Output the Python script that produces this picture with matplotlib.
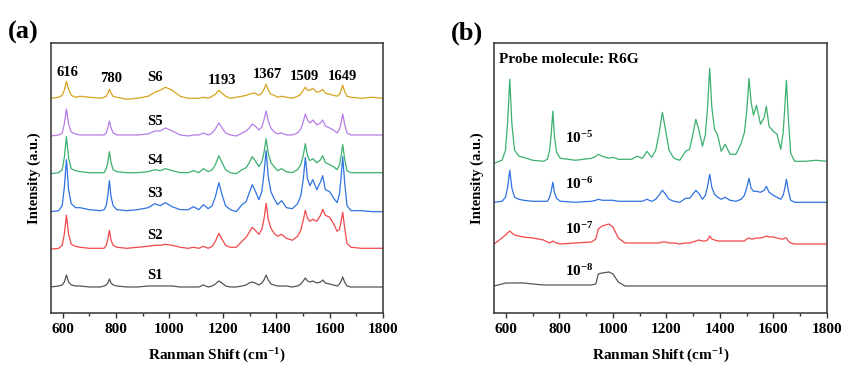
import matplotlib
matplotlib.use('Agg')
import matplotlib.pyplot as plt
from matplotlib.ticker import MultipleLocator
import numpy as np

plt.rcParams['font.family'] = ['Liberation Serif', 'DejaVu Serif']
plt.rcParams['font.weight'] = 'bold'
plt.rcParams['axes.labelweight'] = 'bold'
plt.rcParams['mathtext.fontset'] = 'custom'
plt.rcParams['mathtext.rm'] = 'Liberation Serif:bold'
plt.rcParams['mathtext.it'] = 'Liberation Serif:bold'
plt.rcParams['mathtext.bf'] = 'Liberation Serif:bold'

# ---- panel (a): Raman shift knots and intensities of S1..S6 ----
shift_a = [555, 585, 598, 606, 614, 622, 632, 648, 665, 700,
           740, 755, 763, 769, 775, 781, 789, 803, 840, 880,
           920, 945, 965, 985, 1010, 1040, 1070, 1090, 1110, 1127,
           1145, 1160, 1172, 1185, 1197, 1210, 1228, 1250, 1272, 1287,
           1299, 1310, 1321, 1335, 1346, 1354, 1362, 1370, 1380, 1392,
           1405, 1420, 1438, 1460, 1480, 1492, 1501, 1509, 1517, 1526,
           1537, 1552, 1566, 1574, 1584, 1600, 1614, 1628, 1637, 1643,
           1649, 1656, 1665, 1680, 1720, 1760, 1800]

s1 = [0, 1, 2, 5, 12, 5, 2, 1, 1, 0,
      0, 1, 2, 4, 8, 4, 2, 1, 0, 0,
      1, 1, 1, 1, 1, 0, 0, 0, 0, 2,
      0, 1, 3, 6, 4, 1, 0, 0, 1, 2,
      4, 5, 4, 2, 4, 7, 12, 7, 3, 2,
      1, 1, 1, 0, 1, 3, 6, 9, 6, 5,
      6, 4, 5, 7, 4, 3, 2, 1, 3, 6,
      10, 5, 1, 0, 0, 0, 0]
s2 = [0, 1, 4, 15, 34, 15, 5, 3, 2, 1,
      1, 1, 4, 10, 19, 9, 4, 2, 1, 2,
      3, 4, 4, 5, 4, 2, 1, 2, 1, 3,
      1, 3, 8, 16, 10, 4, 2, 2, 8, 12,
      17, 22, 19, 15, 20, 30, 46, 30, 21, 16,
      13, 15, 11, 9, 13, 19, 29, 39, 31, 28,
      30, 28, 34, 40, 34, 32, 26, 18, 20, 28,
      37, 22, 6, 2, 1, 1, 1]
s3 = [0, 1, 6, 24, 52, 22, 8, 4, 4, 2,
      1, 2, 6, 16, 31, 15, 6, 2, 1, 2,
      4, 8, 6, 9, 5, 2, 2, 5, 2, 7,
      3, 6, 15, 29, 17, 6, 2, 0, 7, 10,
      19, 27, 21, 12, 20, 38, 61, 35, 20, 13,
      7, 11, 4, 3, 8, 16, 32, 54, 33, 26,
      32, 22, 30, 36, 22, 20, 14, 9, 18, 35,
      55, 30, 6, 1, 1, 0, 0]
s4 = [0, 1, 4, 16, 37, 16, 5, 3, 2, 1,
      1, 1, 5, 11, 22, 11, 4, 2, 1, 1,
      2, 4, 3, 5, 3, 1, 1, 3, 1, 5,
      2, 4, 9, 18, 11, 4, 1, 0, 4, 6,
      11, 17, 13, 7, 12, 21, 35, 20, 11, 7,
      3, 5, 2, 1, 4, 9, 18, 30, 18, 13,
      15, 11, 14, 18, 11, 9, 7, 4, 9, 18,
      29, 15, 3, 1, 1, 1, 1]
s5 = [0, 1, 3, 12, 27, 12, 4, 2, 1, 1,
      1, 1, 3, 8, 15, 8, 3, 1, 1, 1,
      2, 5, 5, 8, 5, 1, 0, 1, 1, 3,
      1, 3, 7, 13, 8, 3, 1, 0, 3, 5,
      8, 12, 10, 6, 9, 16, 25, 15, 8, 4,
      2, 3, 1, 1, 3, 7, 14, 22, 16, 13,
      16, 11, 13, 16, 10, 8, 6, 3, 7, 13,
      22, 12, 3, 1, 1, 1, 1]
s6 = [0, 1, 3, 8, 17, 9, 3, 1, 2, 1,
      0, 1, 2, 5, 9, 5, 2, 1, -1, 0,
      2, 6, 8, 11, 8, 2, 0, 0, 0, 1,
      0, 2, 4, 8, 5, 2, 0, 1, 2, 3,
      4, 5, 5, 3, 5, 9, 14, 8, 4, 3,
      1, 2, 1, 0, 2, 4, 8, 11, 8, 8,
      10, 6, 7, 9, 5, 4, 3, 2, 4, 8,
      13, 7, 2, 1, 0, 1, 0]

names_a = ['S1', 'S2', 'S3', 'S4', 'S5', 'S6']
peak_labels = ['616', '780', '1193', '1367', '1509', '1649']

# ---- panel (b): R6G at different concentrations ----
shift_b = [555, 585, 598, 606, 614, 622, 632, 648, 665, 700,
           740, 755, 763, 769, 775, 781, 789, 803, 860, 920,
           936, 945, 960, 985, 1000, 1020, 1045, 1070, 1090, 1110,
           1127, 1145, 1160, 1172, 1185, 1197, 1210, 1228, 1250, 1272,
           1287, 1299, 1310, 1321, 1335, 1346, 1354, 1362, 1370, 1380,
           1392, 1405, 1420, 1438, 1460, 1480, 1492, 1501, 1509, 1517,
           1526, 1537, 1552, 1566, 1574, 1584, 1600, 1614, 1628, 1637,
           1643, 1649, 1656, 1665, 1680, 1720, 1760, 1800]

c8 = [0, 2, 3, 3, 3, 3, 3, 3, 3, 2,
      1, 1, 1, 1, 1, 1, 1, 1, 1, 1,
      2, 12, 13, 14, 12, 4, 0, 0, 0, 0,
      0, 0, 0, 0, 0, 0, 0, 0, 0, 0,
      0, 0, 0, 0, 0, 0, 0, 0, 0, 0,
      0, 0, 0, 0, 0, 0, 0, 0, 0, 0,
      0, 0, 0, 0, 0, 0, 0, 0, 0, 0,
      0, 0, 0, 0, 0, 0, 0, 0]
c7 = [0, 6, 9, 11, 13, 11, 9, 8, 7, 6,
      4, 2, 1, 2, 3, 2, 1, 0, 1, 2,
      5, 15, 18, 20, 17, 6, 1, 1, 1, 1,
      1, 1, 1, 1, 2, 2, 1, 1, 0, 1,
      1, 2, 3, 4, 3, 3, 4, 8, 5, 4,
      3, 3, 3, 3, 3, 3, 3, 5, 6, 5,
      5, 6, 6, 7, 8, 7, 7, 6, 5, 5,
      6, 6, 3, 1, 0, 0, 0, 0]
c6 = [0, 1, 5, 15, 32, 14, 5, 3, 2, 1,
      1, 1, 5, 11, 20, 10, 4, 1, 0, 1,
      2, 3, 2, 2, 2, 1, 1, 1, 1, 1,
      3, 1, 3, 7, 12, 8, 3, 1, 0, 4,
      4, 8, 12, 9, 3, 7, 16, 28, 15, 8,
      5, 3, 5, 2, 1, 3, 7, 15, 24, 14,
      11, 11, 10, 12, 16, 10, 7, 5, 3, 7,
      14, 23, 12, 2, 0, 0, 0, 0]
c5 = [-1, 2, 12, 40, 83, 38, 12, 6, 5, 2,
      1, 3, 12, 28, 51, 26, 10, 4, 2, 4,
      6, 8, 6, 4, 5, 3, 3, 3, 6, 4,
      11, 5, 12, 28, 50, 32, 12, 4, 2, 11,
      13, 28, 43, 33, 16, 28, 55, 94, 55, 33,
      27, 11, 18, 8, 8, 19, 30, 52, 84, 60,
      47, 57, 38, 45, 56, 36, 31, 28, 13, 30,
      55, 82, 45, 9, 1, 1, 2, 1]

conc_labels = ['10$^{-8}$', '10$^{-7}$', '10$^{-6}$', '10$^{-5}$']

colors = ['#555555', '#f0484b', '#2f72e0', '#3cb06e', '#b67de6', '#d6a31c']

fig = plt.figure(figsize=(8.65, 3.65), dpi=100)
ax1 = fig.add_axes([0.0586, 0.1433, 0.3842, 0.739])
ax2 = fig.add_axes([0.5711, 0.1433, 0.3847, 0.739])

# offsets for stacking (vertical spacing)
offs_a = [25.7, 63.4, 101, 139, 176.7, 214.4]
series_a = [s1, s2, s3, s4, s5, s6]
for i, s in enumerate(series_a):
    ax1.plot(shift_a, np.array(s) + offs_a[i], color=colors[i], lw=0.9)

label_y_a = [37, 77, 119, 152, 191, 235]
for name, ly in zip(names_a, label_y_a):
    ax1.text(944, ly, name, ha='center', va='center', fontsize=10.5)

peak_pos = [(619, 240), (780, 234), (1198, 232), (1366, 238), (1505, 236), (1647, 236)]
for lab, (px, py) in zip(peak_labels, peak_pos):
    ax1.text(px, py, lab, ha='center', va='center', fontsize=10.5)

offs_b = [26.7, 68.7, 110.4, 150.4]
series_b = [c8, c7, c6, c5]
for i, s in enumerate(series_b):
    ax2.plot(shift_b, np.array(s) + offs_b[i], color=colors[i], lw=0.9)

label_y_b = [42, 84, 129, 175]
for lab, ly in zip(conc_labels, label_y_b):
    ax2.text(875, ly, lab, ha='center', va='center', fontsize=11)

ax2.text(0.015, 0.94, 'Probe molecule: R6G', transform=ax2.transAxes,
         ha='left', va='center', fontsize=11)

for ax in (ax1, ax2):
    ax.set_xlim(555, 1800)
    ax.set_ylim(0, 269.7)
    ax.xaxis.set_major_locator(MultipleLocator(200))
    ax.xaxis.set_minor_locator(MultipleLocator(100))
    ax.tick_params(axis='x', which='major', direction='out', length=3.5, width=1,
                   labelsize=11, pad=4, color='#333333')
    ax.tick_params(axis='x', which='minor', direction='out', length=2, width=1,
                   color='#333333')
    for t in ax.get_xticklabels():
        t.set_fontweight('bold')
    ax.set_yticks([])
    for sp in ax.spines.values():
        sp.set_color('#333333')
        sp.set_linewidth(1.1)
    ax.set_xlabel('Ranman Shift (cm$^{-1}$)', fontsize=11, fontweight='bold', labelpad=8)
    ax.set_ylabel('Intensity (a.u.)', fontsize=10.5, fontweight='bold', labelpad=7)

fig.text(0.009, 0.91, '(a)', fontsize=19, ha='left', va='center')
fig.text(0.521, 0.91, '(b)', fontsize=19, ha='left', va='center')

fig.savefig('out.png', dpi=100)
